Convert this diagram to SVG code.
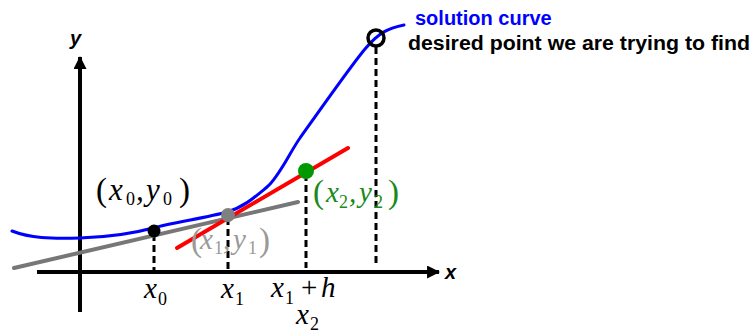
<svg xmlns="http://www.w3.org/2000/svg" width="753" height="335" viewBox="0 0 753 335">
<style>
.m{font-family:"Liberation Serif","Times New Roman",serif;font-style:italic;font-size:29px}
.b{font-size:31px}
.s{font-size:18px;font-style:normal}
.p{font-style:normal;font-size:33px}
.lab{font-family:"Liberation Sans",Arial,sans-serif;font-weight:bold;font-size:20px}
.dash{stroke:#000;stroke-width:3;stroke-dasharray:7 4;fill:none}
</style>
<defs>
<marker id="ah" viewBox="0 0 12 12" refX="11" refY="6" markerWidth="14" markerHeight="13" orient="auto" markerUnits="userSpaceOnUse">
<path d="M0,0 L12,6 L0,12 z" fill="#000"/>
</marker>
</defs>
<rect width="753" height="335" fill="#fff"/>
<g id="axes">
<line x1="80" y1="312" x2="80" y2="57" stroke="#000" stroke-width="4" marker-end="url(#ah)"/>
<line x1="37" y1="272" x2="439" y2="272" stroke="#000" stroke-width="4" marker-end="url(#ah)"/>
<text x="70" y="45" class="lab" font-style="italic" font-size="23">y</text>
<text x="445" y="279" class="lab" font-style="italic" font-size="21">x</text>
</g>
<g id="connectors">
<line class="dash" x1="154" y1="234" x2="154" y2="270"/>
<line class="dash" x1="228" y1="218" x2="228" y2="270"/>
<line class="dash" x1="306" y1="174" x2="306" y2="268"/>
<line class="dash" x1="376" y1="47" x2="376" y2="265"/>
</g>
<g id="curve">
<path d="M12,231 C30,238 50,239 80,238 S135,233 153,228 S210,217 227,212 S255,197 267,187 S290,152 300,138 S350,67 365,49 S390,28 404,25" fill="none" stroke="#0000ff" stroke-width="3" stroke-linecap="round" stroke-linejoin="round"/>
</g>
<g id="tangent0">
<line x1="14" y1="268" x2="298" y2="202" stroke="#777" stroke-width="4" stroke-linecap="round"/>
</g>
<g id="tangent1">
<line x1="177" y1="248" x2="348" y2="148" stroke="#ff0000" stroke-width="4" stroke-linecap="round"/>
</g>
<g id="p0">
<circle cx="154" cy="231" r="6.5" fill="#000"/>
<text class="m b"><tspan class="p" x="96" y="201">(</tspan><tspan x="109" y="200">x</tspan><tspan class="s" x="126" y="205">0</tspan><tspan x="136" y="200">,</tspan><tspan x="146" y="200">y</tspan><tspan class="s" x="163" y="205">0</tspan><tspan class="p" x="179" y="201">)</tspan></text>
</g>
<g id="p1">
<circle cx="228" cy="215" r="7" fill="#808080"/>
<text class="m" fill="#999"><tspan class="p" x="191" y="251">(</tspan><tspan x="200" y="249">x</tspan><tspan class="s" x="214" y="254">1</tspan><tspan x="223" y="249">,</tspan><tspan x="233" y="249">y</tspan><tspan class="s" x="248" y="254">1</tspan><tspan class="p" x="259" y="251">)</tspan></text>
</g>
<g id="p2">
<circle cx="306" cy="171" r="8" fill="#009900"/>
<text class="m" fill="#1a8a1a"><tspan class="p" x="313" y="203">(</tspan><tspan x="326" y="202">x</tspan><tspan class="s" x="339" y="208">2</tspan><tspan x="349" y="202">,</tspan><tspan x="359" y="202">y</tspan><tspan class="s" x="374" y="208">2</tspan><tspan class="p" x="388" y="203">)</tspan></text>
</g>
<g id="target">
<circle cx="376" cy="38" r="8" fill="none" stroke="#000" stroke-width="3.5"/>
<text class="lab" x="415" y="25" fill="#0000ff">solution curve</text>
<text class="lab" x="408" y="50" fill="#000" textLength="342" lengthAdjust="spacingAndGlyphs">desired point we are trying to find</text>
</g>
<g id="ticks">
<text class="m"><tspan x="144" y="298">x</tspan><tspan class="s" x="158" y="305">0</tspan></text>
<text class="m"><tspan x="221" y="298">x</tspan><tspan class="s" x="235" y="305">1</tspan></text>
<text class="m"><tspan x="271" y="297">x</tspan><tspan class="s" x="285" y="304">1</tspan><tspan x="301" y="297" font-style="normal">+</tspan><tspan x="321" y="297">h</tspan></text>
<text class="m"><tspan x="296" y="324">x</tspan><tspan class="s" x="310" y="330">2</tspan></text>
</g>
</svg>
